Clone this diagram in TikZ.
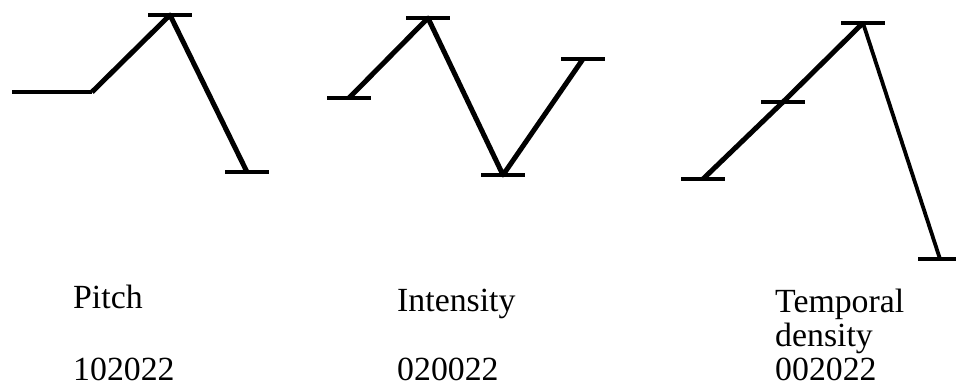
\documentclass[tikz,border=0pt]{standalone}
\usepackage{fontspec}
\setmainfont{Liberation Serif}
\usetikzlibrary{positioning}
\tikzset{
  contour/.style={line width=5pt,line join=round,line cap=butt},
  flatLine/.style={line width=3.3pt},
  endTick/.style={line width=3.3pt},
  dimLabel/.style={anchor=base west,inner sep=0pt,text depth=0pt,
                   font=\fontsize{33.8}{36}\selectfont},
}

\begin{document}
\begin{tikzpicture}[x=1pt,y=-1pt]
  \useasboundingbox (0,0) rectangle (956,389);
  % pitch contour
  \coordinate (pa) at (12,92);
  \coordinate (pb) at (92,92);
  \coordinate (pc) at (170,15);
  \coordinate (pd) at (247,172);
  % intensity contour
  \coordinate (ia) at (349,98);
  \coordinate (ib) at (428,18);
  \coordinate (ic) at (503,175);
  \coordinate (id) at (583,59);
  % temporal density contour
  \coordinate (ta) at (703,179);
  \coordinate (tb) at (783,102);
  \coordinate (tc) at (863,23);
  \coordinate (td) at (940,259);

  \draw[flatLine](pa)--(pb);
  \draw[contour](pb)--(pc)--(pd);
  \draw[contour](ia)--(ib)--(ic)--(id);
  \draw[contour](ta)--(tb)--(tc);
  \draw[contour,line width=3.8pt](tc)--(td);
  \foreach \c in {pc,pd,ia,ib,ic,id,ta,tb,tc,td}{\draw[endTick](\c)++(-22,0)--++(44,0);}

  % labels and codes
  \node[dimLabel](pitchLbl) at (73,308){Pitch};
  \node[dimLabel](pitchCode) at (73,380){102022};
  \node[dimLabel](intLbl) at (397,311){Intensity};
  \node[dimLabel](intCode) at (397,380){020022};
  \node[dimLabel](tempLbl) at (775,312){Temporal};
  \node[dimLabel](denLbl) at (775,346){density};
  \node[dimLabel](tempCode) at (775,380){002022};
\end{tikzpicture}
\end{document}
